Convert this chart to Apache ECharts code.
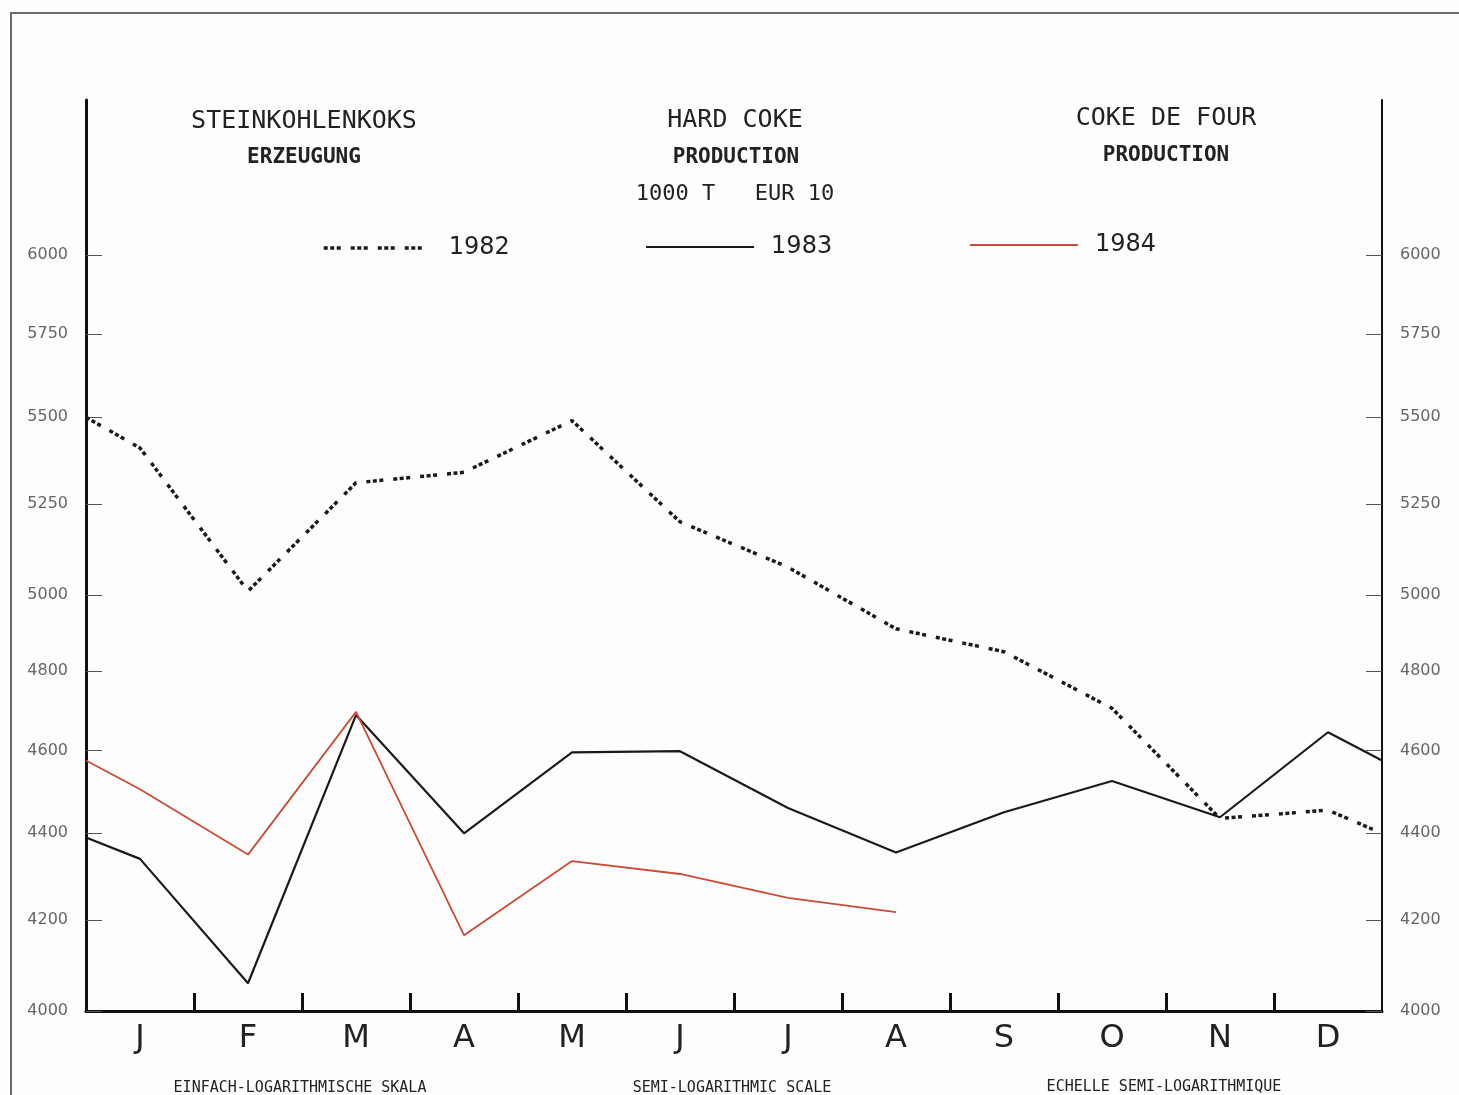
<!DOCTYPE html>
<html><head><meta charset="utf-8">
<script src="https://cdn.jsdelivr.net/npm/echarts@6/dist/echarts.min.js"></script>
<style>
html,body{margin:0;padding:0;background:#fdfdfd;overflow:hidden;}
#frame{position:absolute;left:10px;top:12px;width:1460px;height:1100px;border-left:2px solid #6a6a6a;border-top:2px solid #6a6a6a;}
#chart{position:absolute;left:0;top:0;width:1459px;height:1095px;}
</style></head><body>
<div id="frame"></div><div id="chart"></div>
<script>
// Month labels
const months = ['J','F','M','A','M','J','J','A','S','O','N','D'];
// Values: [left edge, Jan..Dec, right edge] in 1000 t
const prod1982 = [5500, 5410, 5010, 5310, 5340, 5490, 5200, 5075, 4910, 4850, 4705, 4435, 4455, 4400];
const prod1983 = [4390, 4340, 4060, 4688, 4400, 4595, 4598, 4460, 4355, 4450, 4525, 4438, 4645, 4575];
const prod1984 = [4575, 4505, 4350, 4696, 4166, 4335, 4305, 4250, 4218, null, null, null, null, null];
// Y tick labels (semi-log scale)
const yTicks = [4000, 4200, 4400, 4600, 4800, 5000, 5250, 5500, 5750, 6000];
const yMin = 4000, yMax = 6520;

const L = Math.log10;
const xAt = i => i === 0 ? 0 : (i === 13 ? 12 : i - 0.5);
const toData = arr => arr.map((v, i) => v == null ? null : [xAt(i), L(v)]).filter(d => d !== null);

const yCommon = {
  type: 'value', min: L(yMin), max: L(yMax),
  splitLine: {show: false},
  axisLine: {show: true, onZero: false, lineStyle: {color: '#111', width: 3}},
  axisTick: {show: true, inside: true, length: 16, customValues: yTicks.map(L), lineStyle: {color: '#555', width: 1}},
  axisLabel: {show: true, customValues: yTicks.map(L), formatter: v => String(Math.round(Math.pow(10, v))),
    fontSize: 16, color: '#666', fontFamily: 'DejaVu Sans', margin: 18}
};

const mono = '"DejaVu Sans Mono", "Liberation Mono", monospace';
function txt(text, x, y, size, bold) {
  return {type: 'text', x: x, y: y, silent: true, style: {text: text, fill: '#222',
    font: (bold ? 'bold ' : '') + size + 'px ' + mono, textAlign: 'center', textVerticalAlign: 'middle'}};
}
function leg(name, left, top) {
  return {data: [name], left: left, top: top, padding: 0, itemWidth: 108, itemHeight: 2, selectedMode: false,
    itemStyle: {opacity: 0}, lineStyle: {width: 'inherit'},
    textStyle: {fontSize: 24, fontFamily: 'DejaVu Sans', color: '#222', padding: [0, 0, 0, 12]}};
}

const chart = echarts.init(document.getElementById('chart'), null, {renderer: 'canvas'});
chart.setOption({
  animation: false,
  backgroundColor: 'transparent',
  grid: {left: 86, right: 77, top: 100, bottom: 84},
  xAxis: {
    type: 'value', min: 0, max: 12,
    splitLine: {show: false},
    axisLine: {show: true, onZero: false, lineStyle: {color: '#111', width: 3}},
    axisTick: {show: true, inside: true, length: 18, customValues: [1,2,3,4,5,6,7,8,9,10,11], lineStyle: {color: '#111', width: 3}},
    axisLabel: {show: true, customValues: months.map((m, i) => i + 0.5), formatter: v => months[Math.floor(v)],
      fontSize: 32, color: '#222', fontFamily: 'DejaVu Sans', margin: 12}
  },
  yAxis: [
    Object.assign({}, yCommon, {position: 'left'}),
    Object.assign({}, yCommon, {position: 'right', axisLine: {show: true, onZero: false, lineStyle: {color: '#111', width: 2}}})
  ],
  legend: [leg('1982', 322, 236), leg('1983', 645, 235), leg('1984', 969, 233)],
  series: [
    {name: '1982', type: 'line', data: toData(prod1982), symbol: 'none', color: '#1a1a1a',
      lineStyle: {color: '#1a1a1a', width: 3.5, type: [4, 2.5, 4, 2.5, 4, 10], cap: 'butt'}},
    {name: '1983', type: 'line', data: toData(prod1983), symbol: 'none', color: '#1a1a1a',
      lineStyle: {color: '#1a1a1a', width: 2.2}},
    {name: '1984', type: 'line', data: toData(prod1984), symbol: 'none', color: '#cc4a38',
      lineStyle: {color: '#cc4a38', width: 1.8}}
  ],
  graphic: [
    txt('STEINKOHLENKOKS', 304, 121, 25, false),
    txt('ERZEUGUNG', 304, 158, 21, true),
    txt('HARD COKE', 735, 120, 25, false),
    txt('PRODUCTION', 736, 158, 21, true),
    txt('1000 T   EUR 10', 735, 194, 22, false),
    txt('COKE DE FOUR', 1166, 118, 25, false),
    txt('PRODUCTION', 1166, 156, 21, true),
    txt('EINFACH-LOGARITHMISCHE SKALA', 300, 1088, 15, false),
    txt('SEMI-LOGARITHMIC SCALE', 732, 1088, 15, false),
    txt('ECHELLE SEMI-LOGARITHMIQUE', 1164, 1087, 15, false)
  ]
});
</script>
</body></html>
